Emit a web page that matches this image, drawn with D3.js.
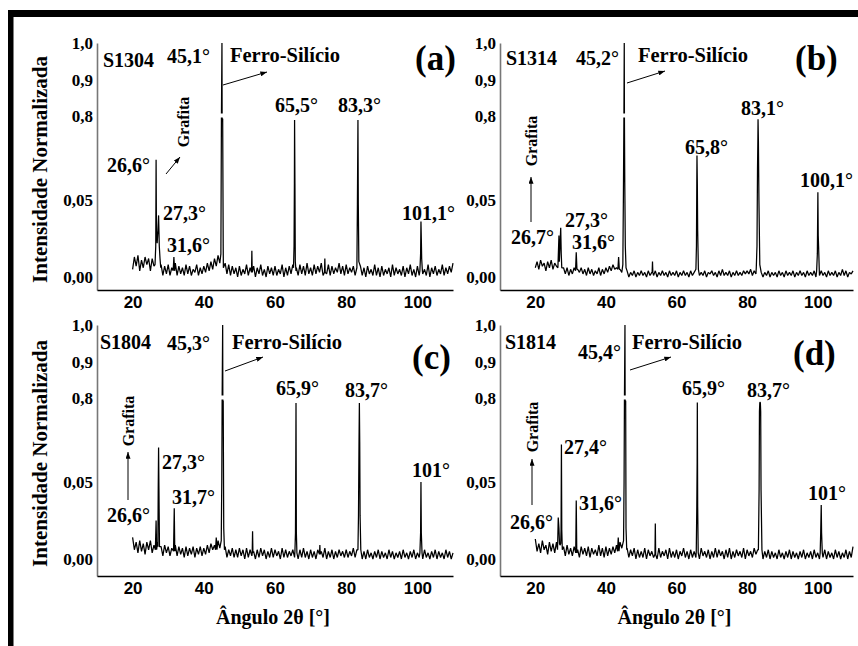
<!DOCTYPE html>
<html><head><meta charset="utf-8">
<script src="https://cdn.jsdelivr.net/npm/d3@7"></script>
<style>body{margin:0;background:#fff}svg{display:block}</style>
</head><body><svg id="chart" width="858" height="646"></svg>
<script>
// ---------- DATA ----------
const samples = ["S1304", "S1314", "S1804", "S1814"];
const panelTags = ["(a)", "(b)", "(c)", "(d)"];
const yTickValues = [0, 0.05, 0.8, 0.9, 1.0];
const yTickLabels = ["0,00", "0,05", "0,8", "0,9", "1,0"];
const xTickValues = [20, 40, 60, 80, 100];
const xTickLabels = ["20", "40", "60", "80", "100"];
const yTitle = "Intensidade Normalizada";
const xTitle = "Ângulo 2θ [°]";
const phaseFe = "Ferro-Silício";
const phaseC = "Grafita";
const baseStart = 20, baseStep = 0.5;   // baseline sampled every 0.5° from 20° to 110°

// baseline noise (thousandths of normalised intensity)
const baselineA = [5,13,7,14,4,11,6,13,8,12, 4,12,7,14,10,3,8,1,7,2, 8,1,6,3,9,1,7,2,6,1, 8,2,7,1,5,3,8,1,6,2,
  7,3,9,4,10,5,12,7,14,9, 13,6,9,2,8,1,7,2,6,0, 7,1,5,2,8,1,6,2,7,0, 6,2,8,1,5,0,7,2,6,1, 7,1,5,2,8,0,6,1,7,2,
  8,3,6,1,8,2,7,1,9,2, 6,1,8,2,7,3,9,1,6,2, 8,1,7,2,6,3,9,2,7,1, 8,2,6,3,7,1,8,2,7,1, 6,0,7,2,5,1,8,1,6,0,
  7,1,5,2,6,0,8,1,6,2, 5,1,7,0,6,2,8,1,5,0, 7,1,6,2,5,1,8,0,6,2, 7,1,5,2,8,1,6,2,7,3, 9];
const baselineB = [6,10,5,11,7,9,4,10,6,11, 5,9,7,10,4,3,6,2,6,1, 5,2,6,1,5,3,6,2,5,1, 6,2,5,1,4,2,6,1,5,2,
  6,3,7,4,8,5,6,4,5,3, 3,1,4,0,3,1,4,0,3,1, 4,1,3,0,4,1,3,1,4,0, 3,1,4,1,3,0,4,1,3,1, 4,0,3,1,4,1,3,0,4,1,
  3,1,4,1,3,1,4,0,3,2, 4,1,3,0,4,1,5,1,3,1, 4,0,3,1,4,1,3,1,4,2, 4,2,5,1,4,2,4,1,3,0, 3,1,4,0,3,1,3,0,4,1,
  3,0,4,1,3,1,4,0,3,1, 4,1,3,0,4,1,3,1,4,0, 3,1,4,1,3,0,4,1,3,1, 4,0,3,1,5,1,4,0,3,2, 4];
const baselineC = [14,6,11,4,12,5,10,3,11,6, 12,4,9,5,11,3,8,2,9,4, 8,2,7,3,9,2,8,3,7,1, 8,2,7,3,8,1,7,3,8,2,
  7,3,9,4,10,6,9,5,12,7, 11,4,8,1,6,2,7,1,6,1, 7,2,6,0,7,1,6,2,5,0, 6,1,7,2,6,0,5,1,7,1, 6,2,5,0,7,1,6,1,5,2,
  6,1,5,0,6,1,7,1,5,0, 6,1,5,0,6,2,5,1,7,0, 5,1,6,0,5,1,6,2,5,1, 6,1,5,2,7,1,6,2,5,0, 5,0,6,1,4,0,5,1,6,0,
  5,1,4,0,6,1,5,0,4,1, 5,0,6,1,4,0,5,1,6,0, 4,1,5,0,6,1,4,0,5,1, 6,0,5,1,4,0,6,1,5,0, 4];
const baselineD = [13,5,10,4,12,6,9,3,11,5, 10,4,11,5,9,3,8,2,9,3, 7,2,8,3,6,1,8,3,7,2, 8,1,7,3,6,2,9,2,7,1,
  8,2,7,3,8,4,9,5,11,7, 10,3,7,1,6,2,7,0,6,1, 5,1,7,0,6,2,5,1,6,0, 7,1,5,2,6,0,7,1,5,1, 6,0,5,2,7,1,5,0,6,1,
  5,1,6,0,7,2,5,1,6,0, 5,1,7,1,6,2,5,0,6,1, 7,0,5,1,6,2,5,1,7,0, 6,2,5,1,7,3,6,1,5,0, 5,1,6,0,5,1,4,0,6,1,
  4,0,5,1,6,0,5,1,4,0, 5,1,6,0,4,1,5,0,6,1, 4,0,5,1,6,0,5,1,4,0, 6,1,5,0,4,1,6,0,5,1, 8];

// diffraction peaks: [2θ, normalised intensity] points of each reflection
const peaksA = [
  [[26.3,.008],[26.5,.02],[26.6,.41],[26.7,.03],[26.9,.022],[27.1,.03],[27.3,.04],[27.5,.02],[27.7,.012],[27.9,.006]],
  [[31.4,.004],[31.6,.013],[31.8,.004]],
  [[44.8,.015],[44.95,.775],[45.1,1.0],[45.15,.775],[45.3,.775],[45.45,.02]],
  [[53.4,.003],[53.5,.017],[53.6,.003]],
  [[65.2,.006],[65.35,.02],[65.45,.2],[65.5,.765],[65.6,.2],[65.7,.01],[65.9,.004]],
  [[73.9,.003],[74.0,.012],[74.1,.003]],
  [[83.0,.006],[83.15,.047],[83.3,.765],[83.4,.047],[83.55,.01]],
  [[100.7,.004],[100.9,.015],[101.0,.036],[101.1,.025],[101.2,.012],[101.4,.004]]
];
const peaksB = [
  [[26.4,.006],[26.6,.02],[26.7,.027],[26.8,.01],[27.0,.02],[27.2,.032],[27.35,.015],[27.5,.006]],
  [[31.4,.004],[31.6,.016],[31.8,.005]],
  [[43.4,.005],[43.6,.013],[43.8,.005]],
  [[44.8,.008],[44.95,.05],[45.1,.775],[45.2,1.0],[45.25,.775],[45.35,.2],[45.5,.02],[45.7,.006]],
  [[53.1,.003],[53.2,.01],[53.3,.003]],
  [[65.5,.005],[65.65,.02],[65.75,.2],[65.8,.447],[65.9,.2],[66.0,.03],[66.2,.005]],
  [[82.6,.006],[82.8,.02],[82.95,.33],[83.05,.58],[83.1,.77],[83.2,.58],[83.35,.05],[83.6,.008]],
  [[99.7,.004],[99.9,.015],[100.05,.12],[100.15,.027],[100.25,.02],[100.45,.004]]
];
const peaksC = [
  [[26.4,.006],[26.6,.025],[26.75,.006]],
  [[27.1,.008],[27.2,.046],[27.3,.357],[27.4,.046],[27.55,.008]],
  [[31.5,.005],[31.7,.033],[31.85,.005]],
  [[43.3,.006],[43.5,.014],[43.7,.006]],
  [[44.9,.012],[45.05,.05],[45.15,.775],[45.3,1.0],[45.35,.775],[45.45,.775],[45.6,.02],[45.8,.006]],
  [[53.6,.004],[53.7,.018],[53.8,.004]],
  [[65.6,.005],[65.75,.017],[65.85,.3],[65.9,.755],[66.0,.017],[66.15,.004]],
  [[72.5,.003],[72.6,.009],[72.7,.003]],
  [[83.3,.006],[83.45,.028],[83.6,.41],[83.7,.755],[83.8,.41],[83.9,.028],[84.1,.006]],
  [[100.7,.004],[100.9,.017],[101.0,.05],[101.1,.017],[101.3,.004]]
];
const peaksD = [
  [[26.3,.006],[26.5,.027],[26.7,.02],[26.85,.01]],
  [[27.2,.01],[27.3,.019],[27.4,.384],[27.5,.019],[27.65,.006]],
  [[31.45,.004],[31.6,.038],[31.75,.004]],
  [[43.3,.005],[43.5,.014],[43.7,.005]],
  [[45.0,.012],[45.15,.05],[45.25,.775],[45.4,1.0],[45.45,.775],[45.6,.775],[45.7,.02],[45.9,.006]],
  [[53.9,.003],[54.0,.023],[54.1,.003]],
  [[65.6,.005],[65.75,.034],[65.85,.23],[65.9,.76],[66.0,.034],[66.15,.004]],
  [[83.2,.006],[83.4,.045],[83.5,.68],[83.6,.76],[83.75,.76],[83.85,.68],[83.95,.045],[84.2,.006]],
  [[100.7,.004],[100.85,.017],[101.0,.035],[101.1,.017],[101.3,.004]]
];

// peak labels of each panel
const peakLabelsA = ["45,1°", "26,6°", "27,3°", "31,6°", "65,5°", "83,3°", "101,1°"];
const peakLabelsB = ["45,2°", "26,7°", "27,3°", "31,6°", "65,8°", "83,1°", "100,1°"];
const peakLabelsC = ["45,3°", "26,6°", "27,3°", "31,7°", "65,9°", "83,7°", "101°"];
const peakLabelsD = ["45,4°", "26,6°", "27,4°", "31,6°", "65,9°", "83,7°", "101°"];

// ---------- LAYOUT ----------
const SERIF = '"Liberation Serif","Times New Roman",serif';
const SANS = '"Liberation Sans",Arial,sans-serif';
const panels = [
  {base: baselineA, peaks: peaksA, labels: peakLabelsA, x0: 97, x1: 453, y0: 277, bottom: 290,
   lab: [[70,13],[10,122],[66,170],[70,202],[178,62],[241,62],[305,170]],
   sample: [6,17], fe: [133,12], tag: [318,15], feArrow: [126,42,170,29],
   graf: [86,79], grafArrow: [69,131,83,114]},
  {base: baselineB, peaks: peaksB, labels: peakLabelsB, x0: 500, x1: 853, y0: 277, bottom: 290,
   lab: [[76,15],[11,194],[65,177],[72,199],[185,104],[241,65],[300,137]],
   sample: [6,15], fe: [138,12], tag: [295,15], feArrow: [127,40,165,28],
   graf: [31,98], grafArrow: [31,179,31,134]},
  {base: baselineC, peaks: peaksC, labels: peakLabelsC, x0: 97, x1: 453, y0: 559, bottom: 576,
   lab: [[70,18],[10,190],[65,137],[75,172],[179,63],[248,65],[315,145]],
   sample: [3,17], fe: [135,17], tag: [315,32], feArrow: [128,46,166,32],
   graf: [31,96], grafArrow: [31,175,31,127]},
  {base: baselineD, peaks: peaksD, labels: peakLabelsD, x0: 500, x1: 853, y0: 559, bottom: 576,
   lab: [[78,27],[10,197],[64,122],[79,178],[182,63],[247,65],[308,168]],
   sample: [5,17], fe: [132,17], tag: [293,28], feArrow: [130,45,171,32],
   graf: [32,102], grafArrow: [32,180,32,134]}
];

const svg = d3.select("#chart");
svg.append("rect").attr("width", 858).attr("height", 646).attr("fill", "#fff");

// frame
svg.append("rect").attr("x", 8).attr("y", 10).attr("width", 850).attr("height", 7).attr("fill", "#000");
svg.append("rect").attr("x", 8).attr("y", 10).attr("width", 5.5).attr("height", 636).attr("fill", "#000");

const defs = svg.append("defs");
defs.append("marker").attr("id", "ah").attr("viewBox", "0 0 8 6").attr("refX", 8).attr("refY", 3)
  .attr("markerWidth", 7).attr("markerHeight", 5).attr("markerUnits", "userSpaceOnUse").attr("orient", "auto")
  .append("path").attr("d", "M0,0L8,3L0,6Z").attr("fill", "#000");

panels.forEach((p, k) => {
  const g = svg.append("g");
  const x = d3.scaleLinear().domain([10, 110]).range([p.x0, p.x1]);
  const ymin = -(p.bottom - p.y0) / 77 * 0.05;
  const y = d3.scaleLinear().domain([ymin, 0, 0.05, 0.8, 0.9, 1.0])
    .range([p.bottom, p.y0, p.y0 - 77, p.y0 - 161, p.y0 - 197, p.y0 - 234]);
  const oy = y(1.0);

  // series: baseline + peaks
  let pts = p.base.map((v, i) => [baseStart + i * baseStep, v / 1000]);
  p.peaks.forEach(pk => {
    const lo = pk[0][0] - 0.01, hi = pk[pk.length - 1][0] + 0.01;
    pts = pts.filter(d => d[0] < lo || d[0] > hi);
  });
  p.peaks.forEach(pk => pk.forEach(d => pts.push(d)));
  pts.sort((a, b) => a[0] - b[0]);

  const line = d3.line().x(d => x(d[0])).y(d => y(d[1]));
  g.append("path").datum(pts).attr("d", line).attr("fill", "none")
    .attr("stroke", "#000").attr("stroke-width", 1.25).attr("stroke-linejoin", "bevel");

  // broken-axis gap on main reflection
  const main = p.peaks.flat().find(d => d[1] === 1.0);
  g.append("rect").attr("x", x(main[0]) - 5).attr("y", y(0.8) - 2.5).attr("width", 10).attr("height", 4).attr("fill", "#fff");

  // axes
  const ya = d3.axisLeft(y).tickValues(yTickValues).tickFormat((d, i) => yTickLabels[i]).tickSize(0).tickSizeOuter(0).tickPadding(4);
  const yg = g.append("g").attr("transform", `translate(${p.x0},0)`).call(ya);
  yg.select(".domain").attr("stroke", "#777").attr("stroke-width", 1.6);
  yg.selectAll("text").attr("font-family", SERIF).attr("font-weight", "bold").attr("font-size", 17).attr("fill", "#000");

  const xa = d3.axisBottom(x).tickValues(xTickValues).tickFormat((d, i) => xTickLabels[i]).tickSize(0).tickSizeOuter(0).tickPadding(6);
  const xg = g.append("g").attr("transform", `translate(0,${p.bottom})`).call(xa);
  xg.select(".domain").attr("stroke", "#000").attr("stroke-width", 1.6);
  xg.selectAll("text").attr("font-family", SANS).attr("font-weight", "bold").attr("font-size", 17).attr("fill", "#000");

  const txt = (s, pos, size) => g.append("text").attr("x", p.x0 + pos[0]).attr("y", oy + pos[1])
      .attr("font-family", SERIF).attr("font-weight", "bold").attr("font-size", size)
      .attr("dominant-baseline", "central").attr("fill", "#000").text(s);
  txt(samples[k], p.sample, 20);
  txt(phaseFe, p.fe, 20.5);
  txt(panelTags[k], p.tag, 35);
  p.labels.forEach((s, i) => txt(s, p.lab[i], 20));

  // Grafita (vertical)
  g.append("text").attr("transform", `translate(${p.x0 + p.graf[0]},${oy + p.graf[1]}) rotate(-90)`)
    .attr("text-anchor", "middle").attr("dominant-baseline", "central")
    .attr("font-family", SERIF).attr("font-weight", "bold").attr("font-size", 16).text(phaseC);

  const arrow = a => g.append("line").attr("x1", p.x0 + a[0]).attr("y1", oy + a[1])
    .attr("x2", p.x0 + a[2]).attr("y2", oy + a[3]).attr("stroke", "#000").attr("stroke-width", 1)
    .attr("marker-end", "url(#ah)");
  arrow(p.feArrow);
  arrow(p.grafArrow);

  if (k % 2 === 0) {
    svg.append("text").attr("transform", `translate(40,${(p.y0 - 234 + p.bottom) / 2 + 3}) rotate(-90)`)
      .attr("text-anchor", "middle").attr("dominant-baseline", "central")
      .attr("font-family", SERIF).attr("font-weight", "bold").attr("font-size", 21).text(yTitle);
  }
  if (k >= 2) {
    svg.append("text").attr("x", (p.x0 + p.x1) / 2 - 2).attr("y", 617)
      .attr("text-anchor", "middle").attr("dominant-baseline", "central")
      .attr("font-family", SERIF).attr("font-weight", "bold").attr("font-size", 20).text(xTitle);
  }
});
</script></body></html>
